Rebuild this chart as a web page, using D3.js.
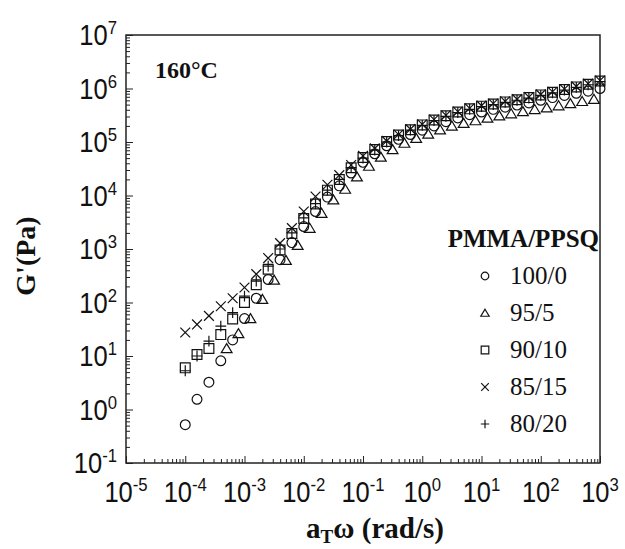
<!DOCTYPE html>
<meta charset="utf-8">
<style>
body { margin: 0; background: #fff; }
.tick line { stroke: #222; stroke-width: 1px; }
.mk { fill: none; stroke: #111; stroke-width: 1.2px; }
.ticklab { font-family: "Liberation Sans", Arial, sans-serif; font-size: 29px; fill: #111; }
.serif { font-family: "Liberation Serif", "Times New Roman", serif; fill: #111; }
</style>
<svg width="625" height="549"></svg>
<script src="https://d3js.org/d3.v7.min.js"></script>
<script>

// frequencies a_T*omega (rad/s), 5 points per decade
var freq = [1.0e-4, 1.58e-4, 2.51e-4, 3.98e-4, 6.31e-4, 1.0e-3, 1.58e-3, 2.51e-3, 3.98e-3, 6.31e-3,
  0.01, 0.0158, 0.0251, 0.0398, 0.0631, 0.1, 0.158, 0.251, 0.398, 0.631,
  1, 1.58, 2.51, 3.98, 6.31, 10, 15.8, 25.1, 39.8, 63.1, 100, 158, 251, 398, 631, 1000];

// 95/5 was shifted a bit differently
var freq95 = [5.0e-4, 7.9e-4, 1.26e-3, 2.0e-3, 3.16e-3, 5.0e-3, 7.9e-3, 0.0126, 0.02, 0.0316,
  0.05, 0.079, 0.126, 0.2, 0.316, 0.5, 0.79, 1.26, 2.0, 3.16,
  5.0, 7.9, 12.6, 20, 31.6, 50, 79, 126, 200, 316, 500, 790];

var g100 = [0.52, 1.55, 3.24, 8.13, 20, 50.1, 120, 269, 631, 1318,
  2630, 5012, 9333, 15140, 26300, 41690, 60260, 85110, 112200, 138000,
  166000, 199500, 239900, 281800, 323600, 363100, 407400, 446700, 489800, 537000,
  602600, 676100, 741300, 812800, 891300, 1000000];

var g95 = [13.8, 26.3, 50.1, 115, 263, 617, 1175, 2455, 4677, 8318,
  13180, 22390, 35480, 52480, 72440, 95500, 117500, 141300, 169800, 199500,
  223900, 251200, 281800, 309000, 338800, 371500, 407400, 436500, 478600, 524800,
  575400, 631000];

var g90 = [6.0, 10.7, 13.8, 25.1, 49, 100, 214, 417, 955, 1950,
  3715, 6918, 12590, 19950, 33110, 51290, 72440, 102300, 134900, 169800,
  208900, 257000, 309000, 363100, 416900, 467700, 512900, 562300, 616600, 676100,
  758600, 851100, 955000, 1072000, 1202000, 1380000];

var g85 = [27.5, 38.9, 56.2, 85.1, 120, 191, 339, 676, 1288, 2455,
  5012, 9550, 15850, 23990, 37150, 54950, 75860, 104700, 138000, 173800,
  213800, 263000, 316200, 371500, 426600, 478600, 524800, 575400, 631000, 691800,
  776200, 871000, 977200, 1096000, 1230000, 1413000];

var g80 = [5.3, 10, 19, 36.3, 64.6, 132, 251, 479, 1000, 1995,
  3802, 7079, 12590, 19950, 33110, 50120, 70790, 100000, 131800, 166000,
  204200, 251200, 302000, 354800, 407400, 457100, 501200, 549500, 602600, 660700,
  741300, 831800, 933300, 1047000, 1175000, 1349000];

var legendNames = ["100/0", "95/5", "90/10", "85/15", "80/20"];
var xDecades = [1e-5, 1e-4, 1e-3, 1e-2, 1e-1, 1e0, 1e1, 1e2, 1e3];
var xExp = ["-5", "-4", "-3", "-2", "-1", "0", "1", "2", "3"];
var yDecades = [1e-1, 1e0, 1e1, 1e2, 1e3, 1e4, 1e5, 1e6, 1e7];
var yExp = ["-1", "0", "1", "2", "3", "4", "5", "6", "7"];

var svg = d3.select("svg");
var L = 126, R = 600, T = 35, B = 463;

var x = d3.scaleLog().domain([1e-5, 1e3]).range([L, R]);
var y = d3.scaleLog().domain([1e-1, 1e7]).range([B, T]);

function minors(decades) {
  var out = [];
  decades.slice(0, -1).forEach(function(d) {
    for (var m = 2; m <= 9; m++) out.push(d * m);
  });
  return out;
}

// ticks point inward
svg.append("g").attr("transform", "translate(0," + B + ")")
  .call(d3.axisBottom(x).tickValues(xDecades).tickSize(-7).tickFormat(""))
  .call(function(g) { g.select(".domain").remove(); });
svg.append("g").attr("transform", "translate(0," + B + ")")
  .call(d3.axisBottom(x).tickValues(minors(xDecades)).tickSize(-4).tickFormat(""))
  .call(function(g) { g.select(".domain").remove(); });
svg.append("g").attr("transform", "translate(" + L + ",0)")
  .call(d3.axisLeft(y).tickValues(yDecades).tickSize(-7).tickFormat(""))
  .call(function(g) { g.select(".domain").remove(); });
svg.append("g").attr("transform", "translate(" + L + ",0)")
  .call(d3.axisLeft(y).tickValues(minors(yDecades)).tickSize(-4).tickFormat(""))
  .call(function(g) { g.select(".domain").remove(); });

svg.append("rect")
  .attr("x", L).attr("y", T).attr("width", R - L).attr("height", B - T)
  .attr("fill", "none").attr("stroke", "#222").attr("stroke-width", 1.5);

// tick labels as 10^n
var xl = svg.append("g").selectAll("text").data(xDecades).enter().append("text")
  .attr("class", "ticklab")
  .attr("text-anchor", "middle")
  .attr("transform", function(d) { return "translate(" + x(d) + ",502) scale(0.88,1)"; });
xl.append("tspan").text("10");
xl.append("tspan").attr("dy", -11).style("font-size", "19px").text(function(d, i) { return xExp[i]; });

var yl = svg.append("g").selectAll("text").data(yDecades).enter().append("text")
  .attr("class", "ticklab")
  .attr("text-anchor", "end")
  .attr("transform", function(d) { return "translate(117," + (y(d) + 10) + ") scale(0.88,1)"; });
yl.append("tspan").text("10");
yl.append("tspan").attr("dy", -11).style("font-size", "19px").text(function(d, i) { return yExp[i]; });

// markers
var shapes = {
  circle: function(s) { return circlePath(s); },
  triangle: function(s) { return "M0," + (-s) + "L" + (s * 1.1) + "," + (s * 0.85) + "L" + (-s * 1.1) + "," + (s * 0.85) + "Z"; },
  square: function(s) { return "M" + (-s) + "," + (-s) + "H" + s + "V" + s + "H" + (-s) + "Z"; },
  times: function(s) { return "M" + (-s) + "," + (-s) + "L" + s + "," + s + "M" + s + "," + (-s) + "L" + (-s) + "," + s; },
  plus: function(s) { return "M" + (-s * 1.1) + ",0H" + (s * 1.1) + "M0," + (-s * 1.1) + "V" + (s * 1.1); }
};
function circlePath(s) {
  var p = d3.path();
  p.moveTo(s, 0);
  p.arc(0, 0, s, 0, 2 * Math.PI);
  return p.toString();
}

var series = [
  { f: freq, g: g100, shape: "circle" },
  { f: freq95, g: g95, shape: "triangle" },
  { f: freq, g: g90, shape: "square" },
  { f: freq, g: g85, shape: "times" },
  { f: freq, g: g80, shape: "plus" }
];

series.forEach(function(s) {
  svg.append("g").selectAll("path")
    .data(s.g.map(function(v, i) { return [s.f[i], v]; }))
    .enter().append("path")
    .attr("class", "mk")
    .attr("transform", function(d) { return "translate(" + x(d[0]) + "," + y(d[1]) + ")"; })
    .attr("d", shapes[s.shape](4.9));
});

// annotations
svg.append("text").attr("class", "serif")
  .attr("x", 155).attr("y", 78)
  .style("font-size", "24px").style("font-weight", "bold")
  .text("160°C");

svg.append("text").attr("class", "serif")
  .attr("x", 599).attr("y", 247).attr("text-anchor", "end")
  .style("font-size", "25px").style("font-weight", "bold")
  .text("PMMA/PPSQ");

var leg = svg.append("g").selectAll("g").data(series).enter().append("g")
  .attr("transform", function(d, i) { return "translate(485," + (276 + i * 37) + ")"; });
leg.append("path").attr("class", "mk")
  .attr("d", function(d) { return shapes[d.shape](3.8); });
leg.append("text").attr("class", "serif")
  .attr("x", 25).attr("y", 8)
  .style("font-size", "25px")
  .text(function(d, i) { return legendNames[i]; });

// axis titles
var xt = svg.append("text").attr("class", "serif")
  .attr("x", 375).attr("y", 538).attr("text-anchor", "middle")
  .style("font-size", "29px").style("font-weight", "bold");
xt.append("tspan").text("a");
xt.append("tspan").attr("dy", 5).style("font-size", "19px").text("T");
xt.append("tspan").attr("dy", -5).text("ω (rad/s)");

svg.append("text").attr("class", "serif")
  .attr("transform", "translate(35,256) rotate(-90)")
  .attr("text-anchor", "middle")
  .style("font-size", "28px").style("font-weight", "bold")
  .text("G'(Pa)");

</script>
